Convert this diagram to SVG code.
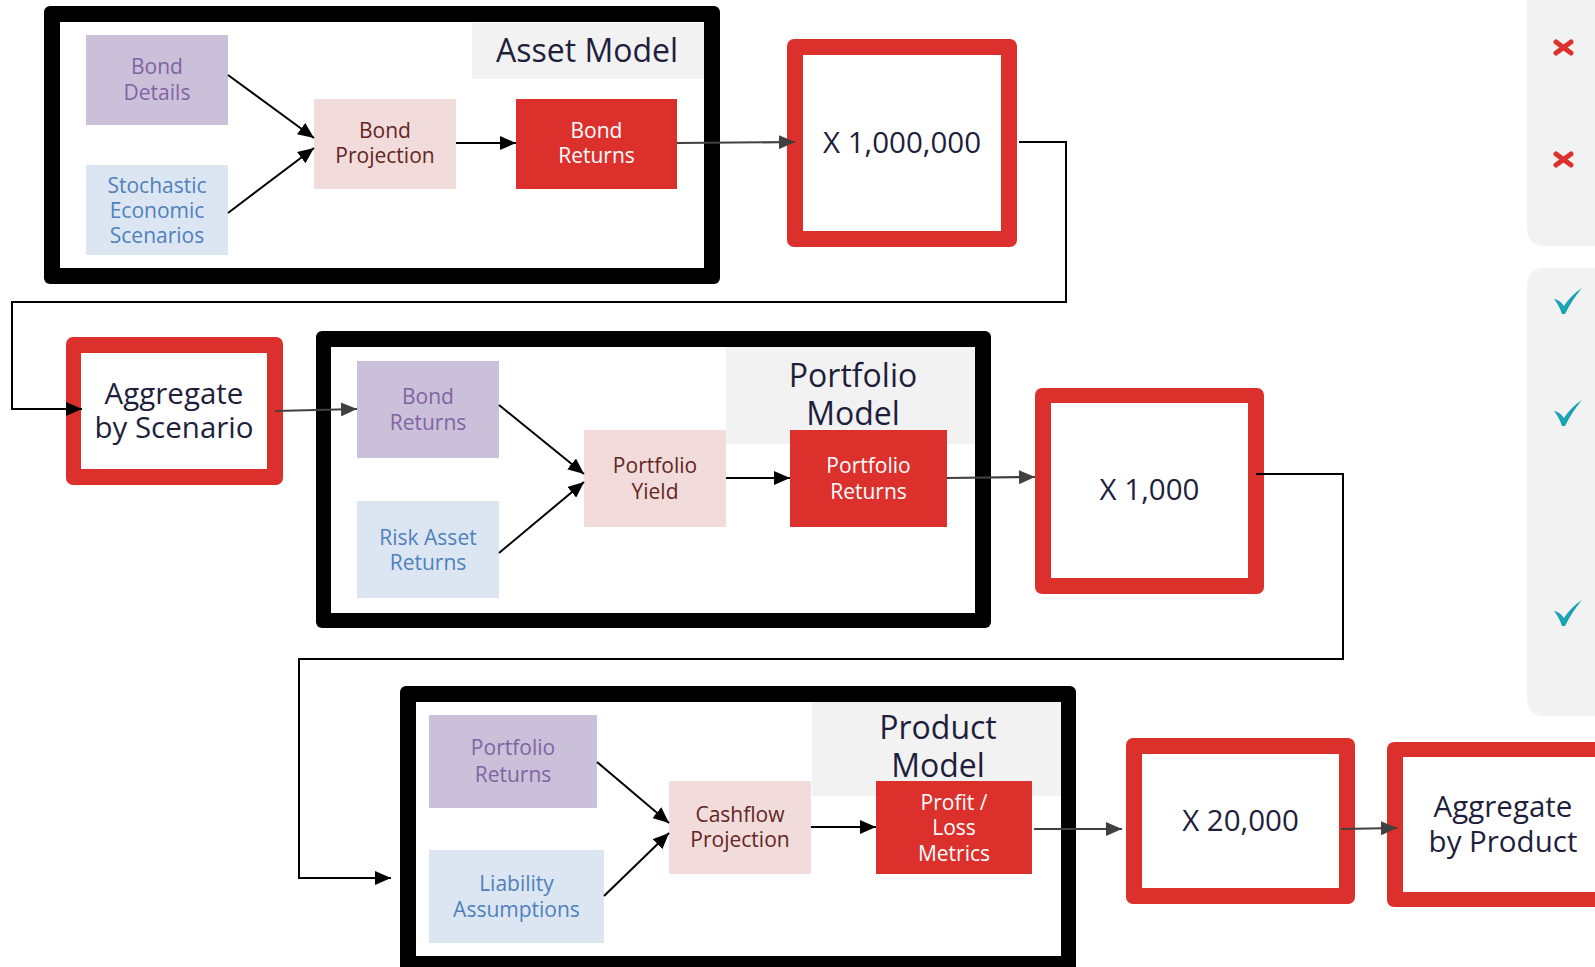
<svg xmlns="http://www.w3.org/2000/svg" width="1595" height="967" viewBox="0 0 1595 967">
<defs>
<style>
text{font-family:"Open Sans","Liberation Sans",sans-serif;text-anchor:middle}
.frame{fill:#000}
.inner{fill:#fff}
.redo{fill:#dc302c}
.title{fill:#f2f2f2}
.tt{font-size:32px;fill:#1f1f3d}
.big{font-size:29.5px;fill:#1f1f3d}
.sm{font-size:21px}
.pur{fill:#cbc0da}.purt{fill:#8064a2}
.blu{fill:#dce6f2}.blut{fill:#4f81bd}
.pnk{fill:#f2dcdb}.pnkt{fill:#632523}
.red{fill:#dc302c}.redt{fill:#fff}
.cb{stroke:#000;stroke-width:2;fill:none;marker-end:url(#ab)}
.cg{stroke:#404040;stroke-width:2.2;fill:none;marker-end:url(#ag)}
.panel{fill:#f2f2f2}
</style>
<marker id="ab" markerWidth="16" markerHeight="14" refX="16" refY="7" orient="auto" markerUnits="userSpaceOnUse"><path d="M0,0 L16,7 L0,14 z" fill="#000"/></marker>
<marker id="ag" markerWidth="16" markerHeight="14" refX="16" refY="7" orient="auto" markerUnits="userSpaceOnUse"><path d="M0,0 L16,7 L0,14 z" fill="#404040"/></marker>
</defs>
<rect width="1595" height="967" fill="#fff"/>

<g id="side-panels">
<rect class="panel" x="1527" y="-30" width="110" height="276" rx="16"/>
<rect class="panel" x="1527" y="268" width="110" height="448" rx="16"/>
<g stroke="#dc302c" stroke-width="5" stroke-linecap="round">
<path d="M1556,42 L1571,53 M1556,53 L1571,42"/>
<path d="M1556,154 L1571,165 M1556,165 L1571,154"/>
</g>
<g fill="#1aa3b3">
<path d="M1554,299 Q1560,300 1564,306 Q1571,295 1582,288 Q1572,300 1565,314 L1562,314 Q1559,305 1554,299 z"/>
<path d="M1554,411 Q1560,412 1564,418 Q1571,407 1582,400 Q1572,412 1565,426 L1562,426 Q1559,417 1554,411 z"/>
<path d="M1554,611 Q1560,612 1564,618 Q1571,607 1582,600 Q1572,612 1565,626 L1562,626 Q1559,617 1554,611 z"/>
</g>
</g>

<g id="asset-model">
<rect class="frame" x="44" y="6" width="676" height="278" rx="6"/>
<rect class="inner" x="60" y="22" width="644" height="246"/>
<rect class="title" x="472" y="23" width="232" height="56"/>
<text class="tt" x="587" y="62">Asset Model</text>
</g>
<g id="bond-details">
<rect class="pur" x="86" y="35" width="142" height="90"/>
<text class="sm purt" x="157" y="74">Bond</text>
<text class="sm purt" x="157" y="100">Details</text>
</g>
<g id="stochastic-scenarios">
<rect class="blu" x="86" y="165" width="142" height="90"/>
<text class="sm blut" x="157" y="193">Stochastic</text>
<text class="sm blut" x="157" y="218">Economic</text>
<text class="sm blut" x="157" y="243">Scenarios</text>
</g>
<g id="bond-projection">
<rect class="pnk" x="314" y="99" width="142" height="90"/>
<text class="sm pnkt" x="385" y="138">Bond</text>
<text class="sm pnkt" x="385" y="163">Projection</text>
</g>
<g id="bond-returns">
<rect class="red" x="516" y="99" width="161" height="90"/>
<text class="sm redt" x="596.5" y="138">Bond</text>
<text class="sm redt" x="596.5" y="163">Returns</text>
</g>

<g id="x-1000000">
<rect class="redo" x="787" y="39" width="230" height="208" rx="7"/>
<rect class="inner" x="803" y="55" width="198" height="176"/>
<text class="big" x="902" y="153">X 1,000,000</text>
</g>

<g id="aggregate-by-scenario">
<rect class="redo" x="66" y="337" width="217" height="148" rx="7"/>
<rect class="inner" x="81" y="353" width="186" height="116"/>
<text class="big" x="174" y="404">Aggregate</text>
<text class="big" x="174" y="438">by Scenario</text>
</g>

<g id="portfolio-model">
<rect class="frame" x="316" y="331" width="675" height="297" rx="6"/>
<rect class="inner" x="331" y="347" width="644" height="266"/>
<rect class="title" x="726" y="347" width="249" height="97"/>
<text class="tt" x="853" y="387">Portfolio</text>
<text class="tt" x="853" y="425">Model</text>
</g>
<g id="pm-bond-returns">
<rect class="pur" x="357" y="361" width="142" height="97"/>
<text class="sm purt" x="428" y="404">Bond</text>
<text class="sm purt" x="428" y="430">Returns</text>
</g>
<g id="risk-asset-returns">
<rect class="blu" x="357" y="501" width="142" height="97"/>
<text class="sm blut" x="428" y="545">Risk Asset</text>
<text class="sm blut" x="428" y="570">Returns</text>
</g>
<g id="portfolio-yield">
<rect class="pnk" x="584" y="430" width="142" height="97"/>
<text class="sm pnkt" x="655" y="473">Portfolio</text>
<text class="sm pnkt" x="655" y="499">Yield</text>
</g>
<g id="portfolio-returns">
<rect class="red" x="790" y="430" width="157" height="97"/>
<text class="sm redt" x="868.5" y="473">Portfolio</text>
<text class="sm redt" x="868.5" y="499">Returns</text>
</g>

<g id="x-1000">
<rect class="redo" x="1035" y="388" width="229" height="206" rx="7"/>
<rect class="inner" x="1051" y="403" width="197" height="175"/>
<text class="big" x="1149.5" y="500">X 1,000</text>
</g>

<g id="product-model">
<rect class="frame" x="400" y="686" width="676" height="292" rx="6"/>
<rect class="inner" x="416" y="702" width="645" height="254"/>
<rect class="title" x="812" y="702" width="249" height="94"/>
<text class="tt" x="938" y="739">Product</text>
<text class="tt" x="938" y="777">Model</text>
</g>
<g id="prm-portfolio-returns">
<rect class="pur" x="429" y="715" width="168" height="93"/>
<text class="sm purt" x="513" y="755">Portfolio</text>
<text class="sm purt" x="513" y="782">Returns</text>
</g>
<g id="liability-assumptions">
<rect class="blu" x="429" y="850" width="175" height="93"/>
<text class="sm blut" x="516.5" y="891">Liability</text>
<text class="sm blut" x="516.5" y="917">Assumptions</text>
</g>
<g id="cashflow-projection">
<rect class="pnk" x="669" y="781" width="142" height="93"/>
<text class="sm pnkt" x="740" y="822">Cashflow</text>
<text class="sm pnkt" x="740" y="847">Projection</text>
</g>
<g id="profit-loss-metrics">
<rect class="red" x="876" y="781" width="156" height="93"/>
<text class="sm redt" x="954" y="810">Profit /</text>
<text class="sm redt" x="954" y="835">Loss</text>
<text class="sm redt" x="954" y="861">Metrics</text>
</g>

<g id="x-20000">
<rect class="redo" x="1126" y="738" width="229" height="166" rx="7"/>
<rect class="inner" x="1142" y="754" width="197" height="134"/>
<text class="big" x="1240.5" y="831">X 20,000</text>
</g>

<g id="aggregate-by-product">
<rect class="redo" x="1387" y="742" width="240" height="165" rx="7"/>
<rect class="inner" x="1403" y="757" width="200" height="135"/>
<text class="big" x="1503" y="817">Aggregate</text>
<text class="big" x="1503" y="852">by Product</text>
</g>

<g id="connectors">
<line class="cb" x1="228" y1="75" x2="314" y2="138"/>
<line class="cb" x1="228" y1="213" x2="314" y2="148"/>
<line class="cb" x1="456" y1="143" x2="516" y2="143"/>
<line class="cg" x1="677" y1="143" x2="795" y2="142"/>
<polyline class="cb" points="1019,142 1066,142 1066,302 12,302 12,409 82,409"/>
<line class="cg" x1="275" y1="411" x2="357" y2="409"/>
<line class="cb" x1="499" y1="405" x2="584" y2="474"/>
<line class="cb" x1="499" y1="553" x2="584" y2="482"/>
<line class="cb" x1="726" y1="478" x2="790" y2="478"/>
<line class="cg" x1="947" y1="478" x2="1035" y2="477"/>
<polyline class="cb" points="1256,474 1343,474 1343,659 299,659 299,878 391,878"/>
<line class="cb" x1="597" y1="762" x2="669" y2="823"/>
<line class="cb" x1="604" y1="896" x2="669" y2="833"/>
<line class="cb" x1="811" y1="827" x2="876" y2="827"/>
<line class="cg" x1="1034" y1="829" x2="1122" y2="829"/>
<line class="cg" x1="1341" y1="829" x2="1397" y2="828"/>
</g>
</svg>
